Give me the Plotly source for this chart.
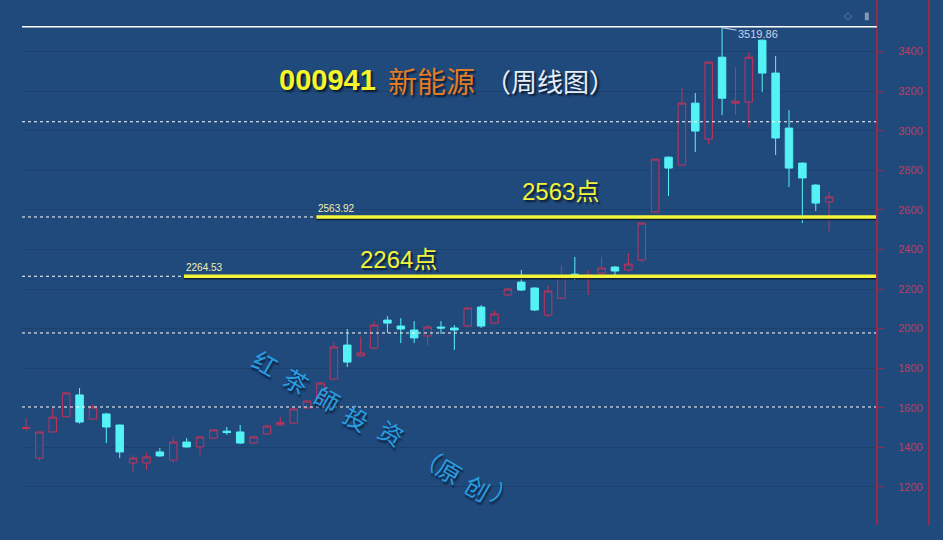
import plotly.graph_objects as go

# ---- data (weekly candles, 000941 新能源) ----
opens  = [1495,1346,1478,1555,1665,1543,1569,1513,1321,1321,1377,1336,1427,1402,1447,1482,1478,1422,1468,1513,
          1523,1599,1639,1745,1917,1862,1902,2043,2013,1993,1963,2008,2003,2013,2109,2028,2170,2235,2205,2068,
          2154,2275,2255,2280,2311,2296,2347,2589,2866,2826,3139,2958,3371,3139,3144,3457,3291,3013,2836,2725,2640]
highs  = [1548,1480,1604,1680,1700,1620,1575,1515,1362,1372,1397,1453,1447,1455,1492,1503,1513,1455,1510,1553,
          1600,1640,1730,1932,1998,1958,2038,2063,2053,2038,2018,2038,2018,2110,2119,2089,2205,2296,2210,2220,
          2321,2362,2296,2362,2316,2382,2535,2860,2870,3215,3190,3350,3519.86,3321,3397,3460,3377,3104,2840,2730,2690]
lows   = [1485,1333,1475,1550,1520,1540,1422,1346,1276,1286,1352,1321,1400,1362,1445,1463,1418,1418,1465,1510,
          1520,1597,1635,1740,1806,1858,1895,1978,1927,1927,1917,1973,1892,2008,2003,2025,2165,2190,2089,2058,
          2150,2245,2170,2275,2255,2291,2336,2585,2670,2820,2892,2932,3079,3079,3018,3195,2877,2715,2533,2594,2493]
closes = [1500,1478,1553,1675,1528,1604,1503,1377,1346,1352,1357,1427,1402,1453,1488,1475,1422,1453,1508,1525,
          1594,1634,1725,1907,1831,1877,2018,2028,1998,1953,2008,2003,1993,2104,2013,2074,2200,2195,2094,2190,
          2260,2260,2270,2306,2291,2326,2533,2856,2811,3139,2998,3346,3164,3149,3371,3291,2963,2811,2761,2634,2665]
weeks = list(range(len(opens)))

y_ticks = [1200, 1400, 1600, 1800, 2000, 2200, 2400, 2600, 2800, 3000, 3200, 3400]
support_levels = [2563.92, 2264.53]
support_labels = ["2563点", "2264点"]
dashed_levels = [3045, 1978, 1604]
peak_value = 3519.86

BG = "#214a7c"
RED = "#c2335a"
CYAN = "#55f2f5"
YELLOW = "#f2f53a"

fig = go.Figure()
fig.add_trace(go.Candlestick(
    x=weeks, open=opens, high=highs, low=lows, close=closes,
    increasing=dict(line=dict(color=RED, width=1), fillcolor=BG),
    decreasing=dict(line=dict(color=CYAN, width=1), fillcolor=CYAN),
    whiskerwidth=0, hoverinfo="skip", showlegend=False,
))

W, L, R, PH = 943, 22, 67, 525
PW = W - L - R

def px_x(px):
    return (px - L) / PW

def px_y(py):
    return 1 - py / PH

shapes = []
# top white line at peak level
shapes.append(dict(type="line", xref="paper", yref="y", x0=0, x1=1.001,
                   y0=peak_value + 5, y1=peak_value + 5, line=dict(color="white", width=1.5)))
# dashed lines
for lv in dashed_levels:
    shapes.append(dict(type="line", xref="paper", yref="y", x0=0, x1=1, y0=lv, y1=lv,
                       line=dict(color="white", width=1, dash="3px,3px")))
starts = [21.7, 11.8]
for lv, st in zip(support_levels, starts):
    shapes.append(dict(type="line", xref="x", yref="y", x0=-0.3, x1=st, y0=lv, y1=lv,
                       line=dict(color="white", width=1, dash="3px,3px")))
    shapes.append(dict(type="line", xref="x", yref="y", x0=st, x1=63.5, y0=lv - 9, y1=lv - 9,
                       line=dict(color="rgba(10,20,35,0.8)", width=3)))
    shapes.append(dict(type="line", xref="x", yref="y", x0=st, x1=63.5, y0=lv, y1=lv,
                       line=dict(color=YELLOW, width=3.5)))
# second vertical red line at right
shapes.append(dict(type="line", xref="paper", yref="paper", x0=px_x(929), x1=px_x(929), y0=0, y1=1,
                   line=dict(color="#9a2848", width=2)))

ann = []
def centered(**kw):
    d = dict(showarrow=False, xanchor="center", yanchor="middle")
    d.update(kw)
    return d

# title
ann.append(centered(xref="paper", yref="paper", x=px_x(327), y=px_y(80), text="<b>000941</b>",
                    font=dict(family="Liberation Sans Narrow, Liberation Sans", size=29, color="#f5f52a",
                              shadow="2px 2px 2px #0a1a30")))
ann.append(centered(xref="paper", yref="paper", x=px_x(431), y=px_y(80), text="新能源",
                    font=dict(family="Noto Sans CJK SC", size=29, color="#e27c24", shadow="2px 2px 2px #0a1a30")))
ann.append(centered(xref="paper", yref="paper", x=px_x(550), y=px_y(80), text="（周线图）",
                    font=dict(family="Noto Sans CJK SC", size=26, color="#e8eef8", shadow="2px 2px 2px #0a1a30")))
# level labels
big_pos = [(39.9, 2695), (27.8, 2351)]
for (bx, by), txt in zip(big_pos, support_labels):
    ann.append(centered(xref="x", yref="y", x=bx, y=by, text=txt,
                        font=dict(family="Liberation Sans, Noto Sans CJK SC", size=24, color=YELLOW,
                                  shadow="2px 2px 2px #0a1a30")))
for lv, st in zip(support_levels, starts):
    ann.append(dict(xref="x", yref="y", x=st, y=lv, text=f"{lv:.2f}", showarrow=False,
                    xanchor="left", yanchor="bottom", yshift=1,
                    font=dict(family="Liberation Sans", size=10, color="#f0f0b0")))
# peak label
pk = highs.index(peak_value)
ann.append(dict(xref="x", yref="y", x=pk, y=peak_value, text=f"{peak_value:.2f}", showarrow=True,
                arrowhead=0, arrowwidth=1, arrowcolor="#c8d4e8", ax=36, ay=6,
                font=dict(family="Liberation Sans", size=11, color="#c8d4e8")))
# watermark
wm_chars = ["红", "茶", "師", "投", "资", "（", "原", "创", "）"]
wm_pos = [(266, 362), (297, 380), (328, 398), (357, 417), (392, 432), (430, 457), (450, 470), (478, 487), (505, 495)]
for ch, (wx, wy) in zip(wm_chars, wm_pos):
    ann.append(centered(xref="paper", yref="paper", x=px_x(wx), y=px_y(wy), text=ch,
                        textangle=30,
                        font=dict(family="Noto Sans CJK SC", size=24, color="#2a9ee0",
                                  shadow="2px 2px 2px #0c2240")))
# small icons top right
ann.append(centered(xref="paper", yref="paper", x=px_x(848), y=px_y(15), text="◇",
                    font=dict(size=10, color="#6f86a8")))
ann.append(centered(xref="paper", yref="paper", x=px_x(867), y=px_y(15), text="▮",
                    font=dict(size=10, color="#8a9ab0")))

fig.update_layout(
    width=W, height=540,
    margin=dict(l=L, r=R, t=0, b=540 - PH),
    paper_bgcolor=BG, plot_bgcolor=BG,
    boxgap=0.2,
    shapes=shapes, annotations=ann,
    xaxis=dict(visible=False, range=[-0.3, 63.5], rangeslider=dict(visible=False)),
    yaxis=dict(side="right", range=[1008, 3660], tickvals=y_ticks,
               ticktext=[str(v) for v in y_ticks],
               showgrid=True, gridcolor="#1b416f", gridwidth=1, zeroline=False,
               showline=True, linecolor="#9a2848", linewidth=2,
               ticks="outside", ticklen=6, tickcolor="#9a2848", ticklabelstandoff=12,
               tickfont=dict(family="Liberation Sans", size=11, color="#c23a5e")),
    hovermode=False,
)

fig.write_html("out.html", config={"displayModeBar": False},
               post_script="document.body.style.margin='0';document.body.style.background='%s';" % BG)
